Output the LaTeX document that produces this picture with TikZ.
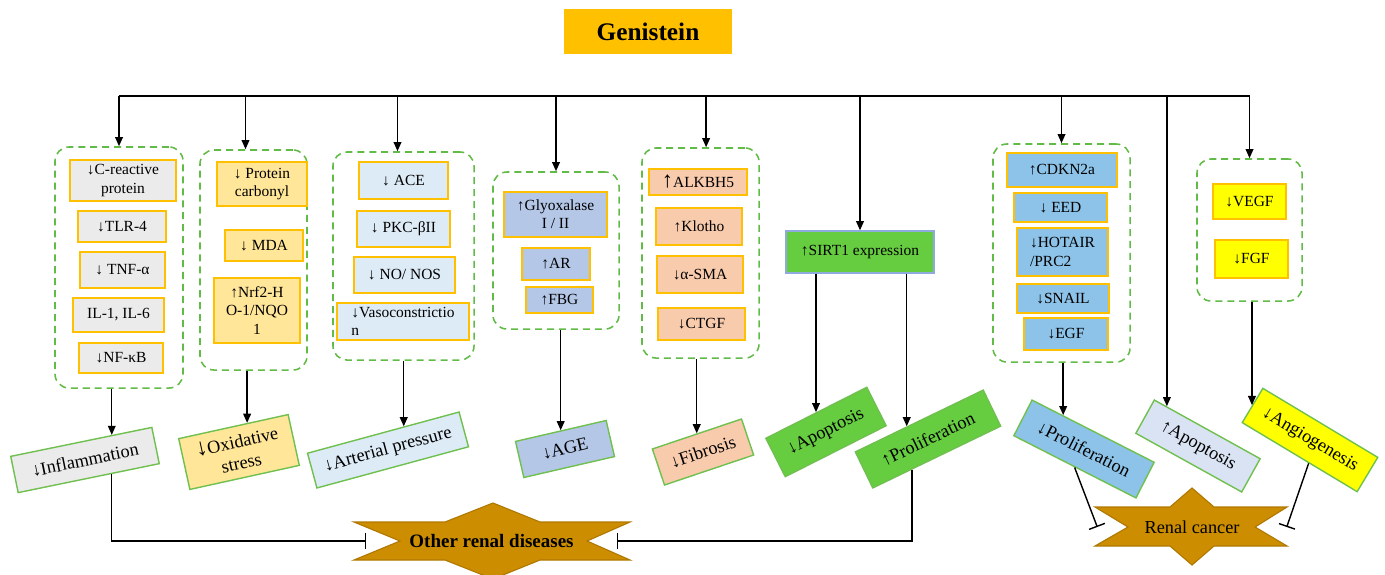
\documentclass[tikz,border=0pt]{standalone}
\usepackage{fontspec}
\setmainfont{Liberation Serif}
\usetikzlibrary{arrows.meta,calc}

\definecolor{boxorange}{HTML}{FFC000}
\definecolor{gengold}{HTML}{FFC000}
\definecolor{inflgray}{HTML}{EBEBEB}
\definecolor{oxyellow}{HTML}{FFE699}
\definecolor{artblue}{HTML}{DDEBF7}
\definecolor{ageblue}{HTML}{B4C7E7}
\definecolor{fibpink}{HTML}{F8CBAD}
\definecolor{sirtgreen}{HTML}{66CC40}
\definecolor{sirtedge}{HTML}{8FAADC}
\definecolor{rcblue}{HTML}{8DC3E8}
\definecolor{angyellow}{HTML}{FFFF00}
\definecolor{apolight}{HTML}{DAE3F3}
\definecolor{grpgreen}{HTML}{62BB46}
\definecolor{resgreen}{HTML}{70C050}
\definecolor{stargold}{HTML}{CC8E00}
\definecolor{stardark}{HTML}{B07800}

\begin{document}
\begin{tikzpicture}[x=0.025cm, y=-0.025cm,
                    line width=1pt,
                    font=\fontsize{11}{13}\selectfont,
                    wh/.style 2 args={minimum width=#1*0.25mm, minimum height=#2*0.25mm},
                    ]
    \tikzstyle{group}=[draw=grpgreen, dash pattern=on 5pt off 3.5pt, line width=1.1pt, rounded corners=10pt]
    \tikzstyle{item}=[draw=boxorange, line width=1pt, inner sep=1pt, align=center]
    \tikzstyle{result}=[item, draw=resgreen, font=\fontsize{13}{15.5}\selectfont]
    \tikzstyle{arr}=[-{Triangle[width=5.5pt,length=6.5pt]}]
    \tikzstyle{inhibit}=[-{Bar[width=12pt]}]
    \tikzstyle{disease}=[fill=stargold, draw=stardark, line width=0.8pt]

    \useasboundingbox (0,0) rectangle (1385,574);

    \node[item, fill=gengold, draw=none, wh={168}{45}, font=\bfseries\fontsize{18}{20}\selectfont] (gen) at (648,31.5) {Genistein};

    \node[group, wh={128}{241}] (g1) at (119,267.5) {};
    \node[group, wh={107}{220}] (g2) at (253.5,260) {};
    \node[group, wh={141}{208}] (g3) at (403.5,256) {};
    \node[group, wh={126}{157}] (g4) at (556,250.5) {};
    \node[group, wh={117}{210}] (g5) at (700.5,253) {};
    \node[group, wh={137}{218}] (g7) at (1061.5,253) {};
    \node[group, wh={105}{142}] (g9) at (1249.5,230) {};

    \node[item, fill=inflgray, wh={106}{41}] (crp) at (123,180.5) {↓C-reactive\\protein};
    \node[item, fill=inflgray, wh={88}{31}] (tlr) at (122,226.5) {↓TLR-4};
    \node[item, fill=inflgray, wh={85}{36}] (tnf) at (122.5,270) {↓ TNF-α};
    \node[item, fill=inflgray, wh={91}{34}] (il) at (118.5,315) {IL-1, IL-6};
    \node[item, fill=inflgray, wh={84}{30}] (nfkb) at (121,358) {↓NF-κB};

    \node[item, fill=oxyellow, wh={90}{44}] (pc) at (262,184) {↓ Protein\\carbonyl};
    \node[item, fill=oxyellow, wh={78}{31}] (mda) at (264,245.5) {↓ MDA};
    \node[item, fill=oxyellow, wh={86}{65}] (nrf) at (257,310.5) {↑Nrf2-H\\O-1/NQO\\1};

    \node[item, fill=artblue, wh={89}{37}] (ace) at (403.5,180.5) {↓ ACE};
    \node[item, fill=artblue, wh={93}{36}] (pkc) at (403.5,229) {↓ PKC-βII};
    \node[item, fill=artblue, wh={101}{36}] (nos) at (404.5,275) {↓ NO/ NOS};
    \node[item, fill=artblue, wh={132}{37}, align=left] (vaso) at (403,321.5) {↓Vasoconstrictio\\n};

    \node[item, fill=ageblue, wh={103}{45}] (gly) at (555.5,214.5) {↑Glyoxalase\\I / II};
    \node[item, fill=ageblue, wh={68}{32}] (ar) at (556,264) {↑AR};
    \node[item, fill=ageblue, wh={67}{26}] (fbg) at (559.5,300) {↑FBG};

    \node[item, fill=fibpink, wh={98}{26}] (alk) at (698,182) {{\fontsize{16}{13}\selectfont↑}ALKBH5};
    \node[item, fill=fibpink, wh={86}{37}] (klo) at (699,226.5) {↑Klotho};
    \node[item, fill=fibpink, wh={86}{37}] (sma) at (700,274.5) {↓α-SMA};
    \node[item, fill=fibpink, wh={87}{32}] (ctgf) at (701.5,324) {↓CTGF};

    \node[item, fill=sirtgreen, draw=sirtedge, wh={148}{42}] (sirt) at (860,252) {↑SIRT1 expression};

    \node[item, fill=rcblue, wh={110}{34}] (cdk) at (1062,170) {↑CDKN2a};
    \node[item, fill=rcblue, wh={93}{29}] (eed) at (1060.5,207.5) {↓ EED};
    \node[item, fill=rcblue, wh={91}{48}, align=left] (hot) at (1062.5,252) {↓HOTAIR\\/PRC2};
    \node[item, fill=rcblue, wh={92}{29}] (snail) at (1063,298.5) {↓SNAIL};
    \node[item, fill=rcblue, wh={84}{32}] (egf) at (1066,334) {↓EGF};

    \node[item, fill=angyellow, wh={73}{35}] (vegf) at (1249.5,201.5) {↓VEGF};
    \node[item, fill=angyellow, wh={73}{38}] (fgf) at (1251.5,259) {↓FGF};

    \node[result, fill=inflgray, rotate=11.6, wh={144}{37}] (infl) at (85,460) {↓Inflammation};
    \node[result, fill=oxyellow, rotate=12.4, wh={112}{52}] (ox) at (239,452) {{\fontsize{17}{15}\selectfont↓}Oxidative\\stress};
    \node[result, fill=artblue, rotate=15.2, wh={157}{36}] (art) at (388,450) {↓Arterial pressure};
    \node[result, fill=ageblue, rotate=13, wh={93}{37}] (age) at (565,449) {↓AGE};
    \node[result, fill=fibpink, rotate=18.6, wh={94}{38}] (fib) at (703,452) {↓Fibrosis};
    \node[result, fill=sirtgreen, rotate=26.8, wh={113}{43}] (apo1) at (826,432) {↓Apoptosis};
    \node[result, fill=sirtgreen, rotate=25.8, wh={142}{40}] (pro1) at (928,439) {↑Proliferation};
    \node[result, fill=rcblue, rotate=-27, wh={137}{40}] (pro2) at (1084,449) {↓Proliferation};
    \node[result, fill=apolight, rotate=-29, wh={121}{38}] (apo2) at (1198,446) {↑Apoptosis};
    \node[result, fill=angyellow, rotate=-31, wh={134}{40}] (ang) at (1310,440) {↓Angiogenesis};

    \filldraw[disease] (354,522) -- (445,522) -- (493,503) -- (540,522) -- (630,522) -- (587,541)
        -- (630,560) -- (540,560) -- (493,579) -- (445,560) -- (354,560) -- (400,541) -- cycle;
    \node[font=\bfseries\fontsize{13.5}{15}\selectfont, wh={249}{38}] (ord) at (491.5,541) {Other renal diseases};

    \filldraw[disease] (1095,507) -- (1170,507) -- (1192,488) -- (1214,507) -- (1287,507) -- (1255,527)
        -- (1287,546) -- (1214,546) -- (1192,565) -- (1170,546) -- (1095,546) -- (1128,527) -- cycle;
    \node[font=\fontsize{13}{15}\selectfont, wh={188}{38}] (rc) at (1192,527) {Renal cancer};

    \coordinate (bus) at (0,96);
    \coordinate (t2) at ([xshift=-2mm]g2.north);
    \coordinate (t3) at ([xshift=-1.5mm]g3.north);
    \coordinate (t5) at ([xshift=1.4mm]g5.north);
    \coordinate (p1) at ($(infl.north)!.43!(infl.north east)$);
    \coordinate (p2) at ($(ox.north)!.25!(ox.north east)$);
    \coordinate (p3) at ($(art.north)!.27!(art.north east)$);
    \coordinate (p6) at ($(pro1.north)!.19!(pro1.north west)$);
    \coordinate (p7) at ($(pro2.north)!.49!(pro2.north west)$);
    \coordinate (p8) at ($(apo2.north)!.76!(apo2.north west)$);
    \coordinate (q1) at ($(infl.south)!.32!(infl.south east)$);
    \coordinate (q6) at ($(pro1.south)!.39!(pro1.south west)$);
    \coordinate (q9) at ($(ang.south)!.16!(ang.south east)$);

    \draw (g1.north |- bus) -- (g9.north |- bus);
    \draw[arr] (g1.north |- bus) -- (g1.north);
    \draw[arr] (t2 |- bus) -- (t2);
    \draw[arr] (t3 |- bus) -- (t3);
    \draw[arr] (g4.north |- bus) -- (g4.north);
    \draw[arr] (t5 |- bus) -- (t5);
    \draw[arr] (sirt.north |- bus) -- (sirt.north);
    \draw[arr] (g7.north |- bus) -- (g7.north);
    \draw[arr] (g9.north |- bus) -- (g9.north);

    \draw[arr] (g1.south -| p1) -- (p1);
    \draw[arr] (g2.south -| p2) -- (p2);
    \draw[arr] (g3.south -| p3) -- (p3);
    \draw[arr] (g4.south -| age.north) -- (age.north);
    \draw[arr] (g5.south -| fib.north) -- (fib.north);
    \draw[arr] (sirt.south -| apo1.north) -- (apo1.north);
    \draw[arr] (sirt.south -| p6) -- (p6);
    \draw[arr] (g7.south -| p7) -- (p7);
    \draw[arr] (p8 |- bus) -- (p8);
    \draw[arr] (g9.south -| ang.west) -- (ang.west);

    \draw[inhibit] (q1) |- (ord.west);
    \draw[inhibit] (q6) |- (ord.east);
    \draw[inhibit] (pro2.south) -- (rc.west);
    \draw[inhibit] (q9) -- (rc.east);
\end{tikzpicture}
\end{document}
